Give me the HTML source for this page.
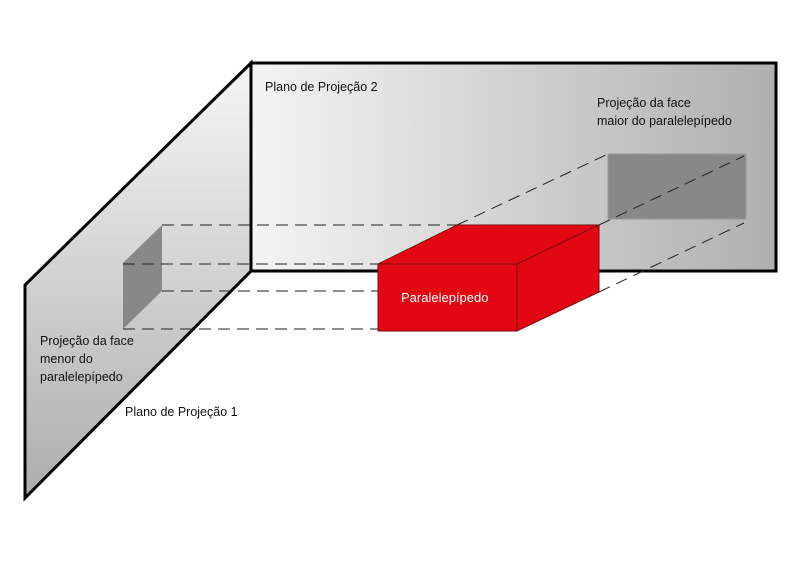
<!DOCTYPE html>
<html><head><meta charset="utf-8"><style>body{margin:0;background:#fff}</style></head><body>
<svg width="801" height="567" xmlns="http://www.w3.org/2000/svg" font-family="Liberation Sans, sans-serif" font-size="12.5">
<defs>
<linearGradient id="g2" x1="0" y1="0" x2="1" y2="0"><stop offset="0" stop-color="#f4f4f4"/><stop offset="1" stop-color="#b0afaf"/></linearGradient>
<linearGradient id="g1" x1="0" y1="0" x2="0" y2="1"><stop offset="0" stop-color="#f6f6f6"/><stop offset="1" stop-color="#aeadad"/></linearGradient>
</defs>
<rect x="251" y="63" width="525" height="208" fill="url(#g2)" stroke="#000" stroke-width="3"/>
<polygon points="251,63 251,271 25,498 25,285" fill="url(#g1)" stroke="#000" stroke-width="3" stroke-linejoin="miter"/>
<polygon points="123,263 162,225 162,291 123,329" fill="#888"/>
<rect x="608" y="154" width="138" height="65" fill="#888" stroke="#999" stroke-width="1"/>
<g stroke="#222" stroke-width="1" stroke-dasharray="12,7" fill="none">
<line x1="162" y1="225" x2="457" y2="225"/>
<line x1="123" y1="264" x2="378" y2="264"/>
<line x1="162" y1="291" x2="378" y2="291"/>
<line x1="123" y1="329" x2="378" y2="329"/>
<line x1="457" y1="225" x2="608" y2="154"/>
<line x1="599" y1="225" x2="744" y2="156"/>
<line x1="599" y1="292" x2="744" y2="223"/>
</g>
<g fill="#e30613" stroke="#7a0d0d" stroke-width="1">
<polygon points="378,264 457,225 599,225 517,264"/>
<polygon points="517,264 599,225 599,292 517,331"/>
<rect x="378" y="264" width="139" height="67"/>
</g>
<text x="401" y="302" fill="#fff" font-size="13">Paralelepípedo</text>
<g fill="#111">
<text x="265" y="91">Plano de Projeção 2</text>
<text x="597" y="107">Projeção da face</text>
<text x="597" y="125">maior do paralelepípedo</text>
<text x="40" y="345">Projeção da face</text>
<text x="40" y="363">menor do</text>
<text x="40" y="381">paralelepípedo</text>
<text x="125" y="416">Plano de Projeção 1</text>
</g>
</svg>
</body></html>
